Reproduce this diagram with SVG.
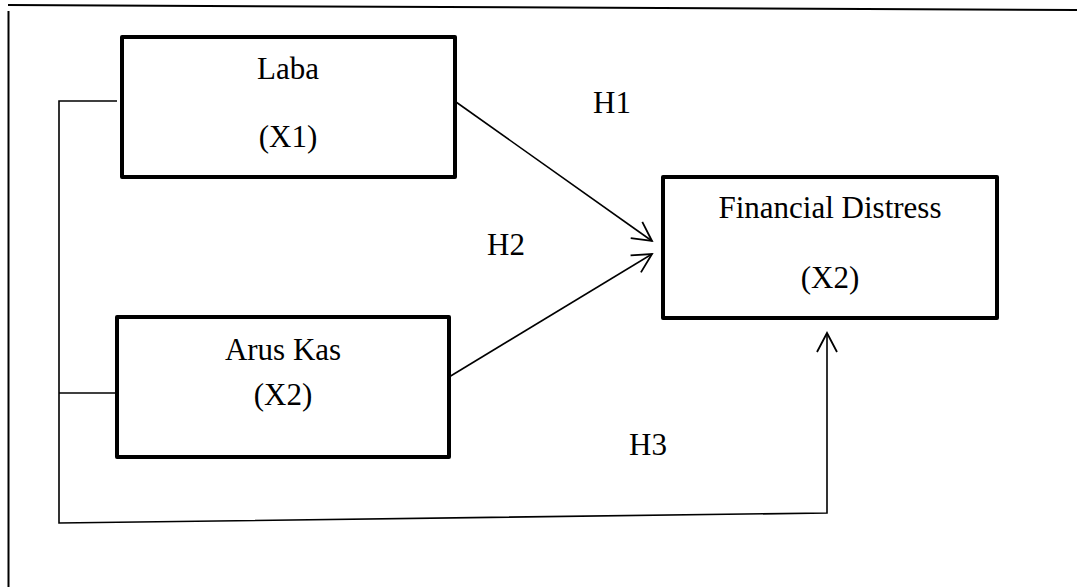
<svg xmlns="http://www.w3.org/2000/svg" width="1077" height="587" viewBox="0 0 1077 587">
<style>
.box{fill:#fff;stroke:#000;stroke-width:4;stroke-linejoin:round}
.t{font-family:"Liberation Serif","Times New Roman",serif;font-size:31px;fill:#000;text-anchor:middle}
.h{font-family:"Liberation Serif","Times New Roman",serif;font-size:31px;fill:#000}
.c{fill:none;stroke:#000;stroke-width:1.6}
</style>
<defs>
<marker id="arr" markerUnits="userSpaceOnUse" markerWidth="30" markerHeight="30" refX="20" refY="11" orient="auto" viewBox="0 0 30 22">
<path d="M1,1 L20,11 L1,21" fill="none" stroke="#000" stroke-width="1.8"/>
</marker>
</defs>
<g id="frame">
<line x1="8" y1="5" x2="1077" y2="10" stroke="#000" stroke-width="2"/>
<line x1="8.5" y1="11" x2="8.5" y2="587" stroke="#000" stroke-width="2"/>
</g>
<g id="connectors">
<polyline class="c" points="117,101 59,101 59,523 827,513 827,333" marker-end="url(#arr)"/>
<line class="c" x1="59" y1="393" x2="117" y2="393"/>
<line class="c" x1="456" y1="102" x2="652" y2="241" marker-end="url(#arr)"/>
<line class="c" x1="449" y1="377" x2="652" y2="254" marker-end="url(#arr)"/>
</g>
<g id="node-laba">
<rect class="box" x="122" y="37" width="333" height="140"/>
<text class="t" x="288" y="79">Laba</text>
<text class="t" x="288" y="147">(X1)</text>
</g>
<g id="node-aruskas">
<rect class="box" x="117" y="317" width="332" height="140"/>
<text class="t" x="283" y="360">Arus Kas</text>
<text class="t" x="283" y="405">(X2)</text>
</g>
<g id="node-fd">
<rect class="box" x="663" y="177" width="334" height="141"/>
<text class="t" x="830" y="218">Financial Distress</text>
<text class="t" x="830" y="288">(X2)</text>
</g>
<g id="labels">
<text class="h" x="593" y="113">H1</text>
<text class="h" x="487" y="255">H2</text>
<text class="h" x="629" y="455">H3</text>
</g>
</svg>
